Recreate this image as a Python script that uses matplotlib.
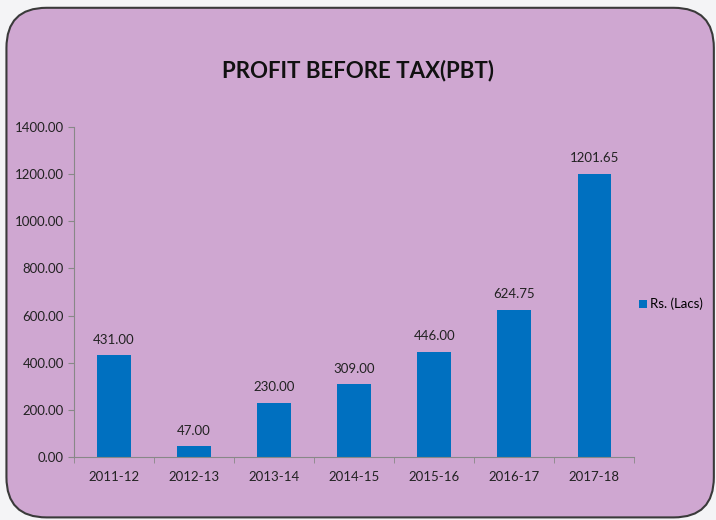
import matplotlib.pyplot as plt
from matplotlib.patches import FancyBboxPatch
import numpy as np

years = ["2011-12", "2012-13", "2013-14", "2014-15", "2015-16", "2016-17", "2017-18"]
pbt = [431.00, 47.00, 230.00, 309.00, 446.00, 624.75, 1201.65]
yticks = [0, 200, 400, 600, 800, 1000, 1200, 1400]

plt.rcParams['font.family'] = ['Lato', 'DejaVu Sans']

fig = plt.figure(figsize=(7.16, 5.2), dpi=100)
fig.patch.set_facecolor("#f4f4f6")

# rounded purple panel behind the chart (own background axes)
bg = fig.add_axes([0, 0, 1, 1], zorder=-1)
bg.set_axis_off()
bg.set_xlim(0, 1)
bg.set_ylim(0, 1)
panel = FancyBboxPatch((0.009, 0.005), 0.988, 0.98,
                       boxstyle="round,pad=0,rounding_size=0.056",
                       mutation_aspect=716 / 520,
                       facecolor="#cfa7d1", edgecolor="#3a3a3a", linewidth=1.5)
bg.add_patch(panel)

ax = fig.add_axes([0.103, 0.121, 0.783, 0.635])
ax.set_facecolor("none")

x = np.arange(len(years))
bars = ax.bar(x, pbt, width=0.42, color="#0070c0", label="Rs. (Lacs)", zorder=2)
for xi, v in zip(x, pbt):
    ax.text(xi, v + 40, f"{v:.2f}", ha="center", va="bottom", fontsize=9.5, color="#222222")

ax.set_xlim(-0.5, len(years) - 0.5)
ax.set_ylim(0, 1400)
ax.set_yticks(yticks)
ax.set_yticklabels([f"{t:.2f}" for t in yticks], fontsize=9.5, color="#222222")
ax.set_xticks(x)
ax.set_xticklabels(years, fontsize=9.5, color="#222222")
ax.set_xticks(np.arange(-0.5, len(years), 1), minor=True)
ax.tick_params(axis="x", which="major", length=0, pad=10)
ax.tick_params(axis="x", which="minor", length=4, color="#888888")
ax.tick_params(axis="y", length=4, color="#888888", pad=3)

for s in ["top", "right"]:
    ax.spines[s].set_visible(False)
for s in ["left", "bottom"]:
    ax.spines[s].set_color("#888888")

fig.text(0.5, 0.865, "PROFIT BEFORE TAX(PBT)", ha="center", va="center",
         fontsize=16, fontweight="bold", color="#111111")

fig.legend(handles=[bars], labels=["Rs. (Lacs)"], loc="center left",
           bbox_to_anchor=(0.893, 0.415), frameon=False, fontsize=9.5,
           handlelength=0.6, handleheight=0.6, handletextpad=0.2,
           borderaxespad=0, borderpad=0)

fig.savefig("out.png", dpi=100)
